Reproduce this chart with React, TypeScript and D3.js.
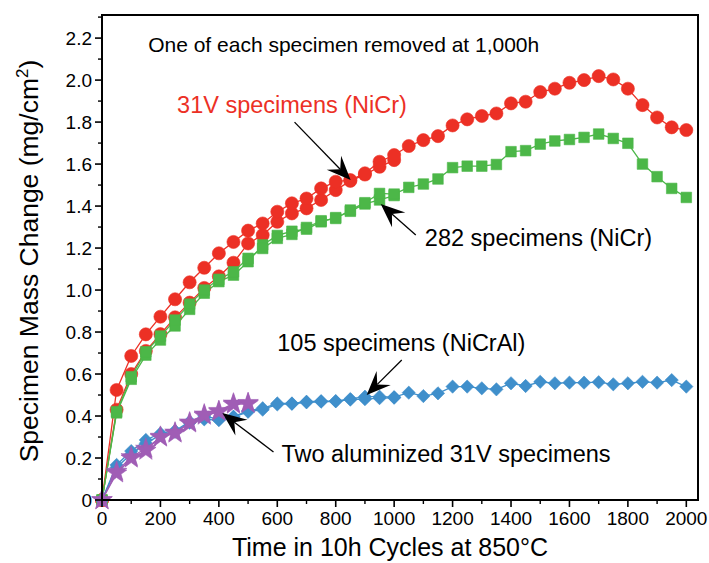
import React from "react";
import * as d3 from "d3";

// Cycles (10 h each) at which specimens were weighed
const cyclesFull = [0, 50, 100, 150, 200, 250, 300, 350, 400, 450, 500, 550, 600, 650, 700, 750, 800, 850, 900, 950, 1000,
  1050, 1100, 1150, 1200, 1250, 1300, 1350, 1400, 1450, 1500, 1550, 1600, 1650, 1700, 1750, 1800, 1850, 1900, 1950, 2000];
const cyclesTo1000 = cyclesFull.slice(0, 21);
const cyclesTo500 = cyclesFull.slice(0, 11);

// 31V (NiCr) – specimen A ran to 2000 cycles, specimen B removed at 1000
const red31vA = [0, 0.524, 0.686, 0.789, 0.873, 0.956, 1.037, 1.106, 1.175, 1.229, 1.283, 1.317, 1.373, 1.413, 1.436, 1.484, 1.516, 1.524, 1.556, 1.611, 1.643,
  1.686, 1.714, 1.733, 1.784, 1.813, 1.829, 1.841, 1.889, 1.897, 1.943, 1.959, 1.987, 2.0, 2.019, 2.003, 1.959, 1.881, 1.822, 1.775, 1.762];
const red31vB = [0, 0.43, 0.6, 0.71, 0.79, 0.87, 0.94, 1.01, 1.065, 1.13, 1.222, 1.262, 1.325, 1.365, 1.389, 1.429, 1.476, 1.52, 1.55, 1.587, 1.619];

// 282 (NiCr)
const green282A = [0, 0.421, 0.587, 0.706, 0.781, 0.857, 0.933, 1.0, 1.051, 1.087, 1.151, 1.198, 1.246, 1.265, 1.298, 1.33, 1.341, 1.381, 1.416, 1.46, 1.457,
  1.489, 1.505, 1.529, 1.583, 1.59, 1.59, 1.598, 1.659, 1.664, 1.695, 1.71, 1.717, 1.727, 1.743, 1.722, 1.699, 1.6, 1.54, 1.484, 1.441];
const green282B = [0, 0.415, 0.575, 0.69, 0.762, 0.829, 0.908, 0.985, 1.04, 1.071, 1.135, 1.215, 1.26, 1.28, 1.29, 1.325, 1.345, 1.375, 1.41, 1.429, 1.45];

// 105 (NiCrAl)
const blue105A = [0, 0.167, 0.233, 0.286, 0.317, 0.33, 0.373, 0.4, 0.384, 0.397, 0.425, 0.437, 0.46, 0.46, 0.468, 0.471, 0.471, 0.481, 0.492, 0.492, 0.49,
  0.511, 0.495, 0.508, 0.54, 0.54, 0.532, 0.527, 0.556, 0.543, 0.563, 0.556, 0.559, 0.559, 0.561, 0.551, 0.556, 0.563, 0.559, 0.571, 0.54];
const blue105B = [0, 0.155, 0.219, 0.27, 0.31, 0.325, 0.368, 0.384, 0.38, 0.395, 0.42, 0.43, 0.455, 0.458, 0.465, 0.468, 0.47, 0.478, 0.48, 0.485, 0.487];

// Aluminized 31V
const purpleAlA = [0, 0.127, 0.198, 0.235, 0.302, 0.317, 0.37, 0.408, 0.425, 0.46, 0.463];
const purpleAlB = [0, 0.135, 0.205, 0.245, 0.298, 0.322, 0.365, 0.402, 0.42, 0.455, 0.458];

const xTicks = [0, 200, 400, 600, 800, 1000, 1200, 1400, 1600, 1800, 2000];
const yTicks = [0, 0.2, 0.4, 0.6, 0.8, 1.0, 1.2, 1.4, 1.6, 1.8, 2.0, 2.2];

const FONT = "'Liberation Sans', Arial, Helvetica, sans-serif";
const W = 709;
const H = 563;
const M = { left: 102, right: 698, top: 15, bottom: 500 };

const x = d3.scaleLinear().domain([0, 2040]).range([M.left, M.right]);
const y = d3.scaleLinear().domain([0, 2.31]).range([M.bottom, M.top]);

type Marker = "circle" | "square" | "diamond" | "star";

const COLORS = {
  red: "#ec3025",
  green: "#4cb748",
  blue: "#3f8fcb",
  purple: "#a05db5",
};

const seriesList: { cycles: number[]; values: number[]; color: string; marker: Marker }[] = [
  { cycles: cyclesTo1000, values: red31vB, color: COLORS.red, marker: "circle" },
  { cycles: cyclesFull, values: red31vA, color: COLORS.red, marker: "circle" },
  { cycles: cyclesTo1000, values: green282B, color: COLORS.green, marker: "square" },
  { cycles: cyclesFull, values: green282A, color: COLORS.green, marker: "square" },
  { cycles: cyclesTo1000, values: blue105B, color: COLORS.blue, marker: "diamond" },
  { cycles: cyclesFull, values: blue105A, color: COLORS.blue, marker: "diamond" },
  { cycles: cyclesTo500, values: purpleAlB, color: COLORS.purple, marker: "star" },
  { cycles: cyclesTo500, values: purpleAlA, color: COLORS.purple, marker: "star" },
];

// square rotated 45° for the NiCrAl markers
const squareDiamond: d3.SymbolType = {
  draw(context, size) {
    const r = Math.sqrt(size / 2);
    context.moveTo(0, -r);
    context.lineTo(r, 0);
    context.lineTo(0, r);
    context.lineTo(-r, 0);
    context.closePath();
  },
};

const markerPath: Record<Marker, string> = {
  circle: d3.symbol(d3.symbolCircle, 135)()!,
  square: d3.symbol(d3.symbolSquare, 112)()!,
  diamond: d3.symbol(squareDiamond, 88)()!,
  star: d3.symbol(d3.symbolStar, 130)()!,
};

// Callouts: text position and arrow (tail -> tip), all in data units
const callouts = [
  { text: "31V specimens (NiCr)", color: COLORS.red, tx: 257, ty: 1.843, size: 23.5, tail: [659, 1.8], tip: [851, 1.524] },
  { text: "282 specimens (NiCr)", color: "#000", tx: 1105, ty: 1.21, size: 23.5, tail: [1074, 1.262], tip: [954, 1.41] },
  { text: "105 specimens (NiCrAl)", color: "#000", tx: 600, ty: 0.71, size: 23.5, tail: [1026, 0.667], tip: [906, 0.5] },
  { text: "Two aluminized 31V specimens", color: "#000", tx: 614, ty: 0.181, size: 23.5, tail: [587, 0.229], tip: [412, 0.414] },
];

function arrowParts(x1: number, y1: number, x2: number, y2: number) {
  const dx = x2 - x1;
  const dy = y2 - y1;
  const len = Math.hypot(dx, dy);
  const ux = dx / len;
  const uy = dy / len;
  const nx = -uy;
  const ny = ux;
  const L = 24;
  const Wd = 10;
  const notch = 15;
  const bx = x2 - ux * L;
  const by = y2 - uy * L;
  const head = `M${x2},${y2} L${bx + nx * Wd},${by + ny * Wd} L${x2 - ux * notch},${y2 - uy * notch} L${bx - nx * Wd},${by - ny * Wd} Z`;
  return { head, lx: x2 - ux * notch, ly: y2 - uy * notch };
}

export default function App() {
  const line = (cycles: number[]) =>
    d3
      .line<number>()
      .x((_, i) => x(cycles[i]))
      .y((v) => y(v));

  const yMinor = d3.range(0.1, 2.31, 0.2);
  const xMinor = d3.range(100, 2040, 200);

  return (
    <svg width={W} height={H} style={{ position: "absolute", left: 0, top: 0, background: "#fff" }} fontFamily={FONT}>
      <rect x={0} y={0} width={W} height={H} fill="#fff" />

      {/* series */}
      {seriesList.map((s, si) => (
        <g key={si}>
          <path d={line(s.cycles)(s.values)!} fill="none" stroke={s.color} strokeWidth={1.3} />
          {s.values.map((v, i) => (
            <path
              key={i}
              d={markerPath[s.marker]}
              transform={`translate(${x(s.cycles[i])},${y(v)})`}
              fill={s.color}
              stroke={s.color}
              strokeWidth={0.6}
            />
          ))}
        </g>
      ))}

      {/* frame */}
      <rect x={M.left} y={M.top} width={M.right - M.left} height={M.bottom - M.top} fill="none" stroke="#000" strokeWidth={2} />

      {/* y axis ticks */}
      {yTicks.map((t) => (
        <g key={t}>
          <line x1={M.left - 7} x2={M.left} y1={y(t)} y2={y(t)} stroke="#000" strokeWidth={1.6} />
          <text x={M.left - 10} y={y(t)} dy="0.35em" textAnchor="end" fontSize={19} fill="#000">
            {t === 0 ? "0" : t.toFixed(1)}
          </text>
        </g>
      ))}
      {yMinor.map((t) => (
        <line key={t} x1={M.left - 4} x2={M.left} y1={y(t)} y2={y(t)} stroke="#000" strokeWidth={1.4} />
      ))}

      {/* x axis ticks */}
      {xTicks.map((t) => (
        <g key={t}>
          <line x1={x(t)} x2={x(t)} y1={M.bottom} y2={M.bottom + 7} stroke="#000" strokeWidth={1.6} />
          <text x={x(t)} y={M.bottom + 25} textAnchor="middle" fontSize={19} fill="#000">
            {t}
          </text>
        </g>
      ))}
      {xMinor.map((t) => (
        <line key={t} x1={x(t)} x2={x(t)} y1={M.bottom} y2={M.bottom + 4} stroke="#000" strokeWidth={1.4} />
      ))}

      {/* axis titles */}
      <text x={390} y={556} textAnchor="middle" fontSize={25} fill="#000">
        Time in 10h Cycles at 850°C
      </text>
      <text transform={`translate(38,261) rotate(-90)`} textAnchor="middle" fontSize={26.5} fill="#000">
        Specimen Mass Change (mg/cm<tspan dy="-10" fontSize={17}>2</tspan><tspan dy="10">)</tspan>
      </text>

      {/* note */}
      <text x={x(158)} y={y(2.133)} fontSize={21} fill="#000">
        One of each specimen removed at 1,000h
      </text>

      {/* callouts */}
      {callouts.map((c, i) => {
        const x1 = x(c.tail[0]);
        const y1 = y(c.tail[1]);
        const x2 = x(c.tip[0]);
        const y2 = y(c.tip[1]);
        const a = arrowParts(x1, y1, x2, y2);
        return (
          <g key={i}>
            <line x1={x1} y1={y1} x2={a.lx} y2={a.ly} stroke="#000" strokeWidth={1.3} />
            <path d={a.head} fill="#000" />
            <text x={x(c.tx)} y={y(c.ty)} fontSize={c.size} fill={c.color}>
              {c.text}
            </text>
          </g>
        );
      })}
    </svg>
  );
}
